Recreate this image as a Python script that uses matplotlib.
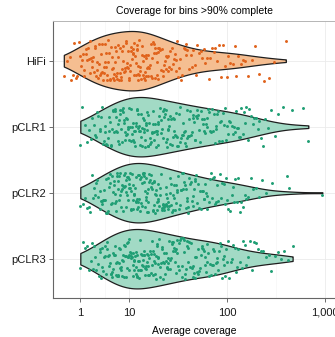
import numpy as np
import matplotlib
matplotlib.use("Agg")
import matplotlib.pyplot as plt
from matplotlib import cbook, mlab


groups = ["HiFi", "pCLR1", "pCLR2", "pCLR3"]

hifi = [
    0.46, 0.53, 0.61,
    0.66, 0.72, 0.76, 0.83, 0.87, 0.94, 0.98,
    1.02, 1.08, 1.11, 1.17, 1.2, 1.28, 1.31, 1.37, 1.45, 1.48, 1.56,
    1.6, 1.68, 1.71, 1.77, 1.85, 1.88, 1.96, 2.03, 2.07, 2.16, 2.2, 2.3, 2.36, 2.46,
    2.54, 2.62, 2.68, 2.75, 2.84, 2.9, 2.98, 3.04, 3.13, 3.2, 3.29, 3.34, 3.45, 3.51, 3.64, 3.73, 3.87,
    4.02, 4.12, 4.22, 4.36, 4.41, 4.57, 4.67, 4.8, 4.9, 5.04, 5.16, 5.3, 5.4, 5.56, 5.69, 5.87, 6.01, 6.2,
    6.37, 6.56, 6.7, 6.91, 7.03, 7.22, 7.42, 7.61, 7.81, 8.02, 8.18, 8.41, 8.62, 8.86, 9.03, 9.28, 9.49, 9.72, 9.92,
    10.1, 10.2, 10.4, 10.5, 10.6, 10.8, 10.9, 11.0, 11.2, 11.3, 11.5, 11.6, 11.7, 11.9, 12.0, 12.1, 12.2, 12.3, 12.4, 12.5,
    12.7, 12.9, 13.0, 13.2, 13.4, 13.5, 13.7, 13.9, 14.0, 14.2, 14.4, 14.5, 14.7, 14.9, 15.0, 15.2, 15.4, 15.6, 15.7,
    16.0, 16.2, 16.5, 16.7, 17.0, 17.2, 17.5, 17.7, 18.0, 18.2, 18.5, 18.7, 19.0, 19.2, 19.5, 19.7, 19.9,
    20.3, 20.7, 21.1, 21.5, 21.9, 22.3, 22.7, 23.1, 23.5, 23.9, 24.3, 24.6, 25.0,
    25.6, 26.2, 26.8, 27.4, 28.0, 28.6, 29.2, 29.8, 30.3, 30.9, 31.4,
    32.3, 33.2, 34.1, 35.0, 35.9, 36.8, 37.6, 38.4, 39.3,
    40.9, 42.4, 43.8, 45.3, 46.7, 48.1, 49.5,
    51.5, 53.6, 55.8, 57.9, 60.1, 62.2,
    64.8, 67.5, 70.3, 73.0, 75.8, 78.5,
    82.0, 86.1, 90.4, 94.7, 98.9,
    103, 108, 114, 119, 124,
    130, 138, 146, 154,
    165, 178, 192,
    212, 238,
    268, 301,
    398,
]

pclr1 = [
    1.0, 1.09, 1.22, 1.34, 1.5,
    1.63, 1.75, 1.86, 1.98, 2.07, 2.2, 2.33, 2.47,
    2.56, 2.68, 2.79, 2.93, 3.01, 3.14, 3.25, 3.37, 3.5, 3.62, 3.77, 3.91,
    4.05, 4.17, 4.3, 4.46, 4.58, 4.72, 4.87, 5.0, 5.13, 5.27, 5.45, 5.6, 5.76, 5.92, 6.08, 6.25,
    6.42, 6.6, 6.77, 6.95, 7.12, 7.33, 7.5, 7.71, 7.92, 8.1, 8.32, 8.55, 8.76, 8.98, 9.19, 9.4, 9.62, 9.86,
    10.0, 10.2, 10.3, 10.4, 10.6, 10.7, 10.8, 11.0, 11.1, 11.2, 11.4, 11.5, 11.6, 11.8, 11.9, 12.0, 12.1, 12.3, 12.4, 12.5,
    12.7, 12.8, 13.0, 13.1, 13.3, 13.5, 13.6, 13.8, 14.0, 14.1, 14.3, 14.4, 14.6, 14.8, 14.9, 15.1, 15.2, 15.4, 15.5, 15.7,
    15.9, 16.2, 16.4, 16.6, 16.9, 17.1, 17.4, 17.6, 17.9, 18.1, 18.3, 18.6, 18.8, 19.0, 19.3, 19.5, 19.7, 19.9,
    20.2, 20.5, 20.9, 21.2, 21.6, 21.9, 22.3, 22.6, 22.9, 23.2, 23.5, 23.8, 24.1, 24.4, 24.6, 24.8, 25.0,
    25.4, 25.9, 26.3, 26.8, 27.2, 27.7, 28.1, 28.6, 29.0, 29.4, 29.9, 30.3, 30.7, 31.1, 31.5,
    32.1, 32.7, 33.3, 33.9, 34.5, 35.1, 35.6, 36.2, 36.8, 37.3, 37.9, 38.5, 39.0, 39.6,
    40.4, 41.2, 42.0, 42.8, 43.5, 44.3, 45.1, 45.9, 46.7, 47.4, 48.2, 49.0, 49.8,
    51.0, 52.1, 53.2, 54.3, 55.3, 56.4, 57.5, 58.6, 59.7, 60.8, 61.9, 62.9,
    64.2, 65.8, 67.3, 68.8, 70.3, 71.8, 73.3, 74.8, 76.2, 77.6, 79.0,
    81.0, 83.1, 85.2, 87.3, 89.4, 91.5, 93.6, 95.7, 97.6, 99.5,
    102, 105, 108, 111, 114, 117, 119, 122, 125,
    128, 132, 136, 140, 144, 148, 152, 156,
    162, 168, 175, 182, 189, 196,
    205, 214, 224, 234, 246,
    262, 282, 305,
    335, 372,
    465,
    598, 676,
]

pclr2 = [
    1.0, 1.11, 1.23, 1.36, 1.52,
    1.6, 1.7, 1.8, 1.91, 2.0, 2.1, 2.22, 2.34, 2.48,
    2.53, 2.63, 2.72, 2.8, 2.9, 3.0, 3.09, 3.18, 3.28, 3.39, 3.5, 3.62, 3.74, 3.88,
    4.01, 4.13, 4.25, 4.37, 4.5, 4.63, 4.77, 4.9, 5.04, 5.18, 5.32, 5.46, 5.6, 5.74, 5.88, 6.0, 6.13, 6.27,
    6.35, 6.5, 6.66, 6.82, 6.98, 7.15, 7.31, 7.48, 7.66, 7.84, 8.02, 8.2, 8.39, 8.58, 8.77, 8.96, 9.15, 9.35, 9.55, 9.76, 9.96,
    10.0, 10.1, 10.2, 10.3, 10.4, 10.5, 10.7, 10.8, 10.9, 11.0, 11.1, 11.2, 11.3, 11.4, 11.6, 11.7, 11.8, 11.9, 12.0, 12.2, 12.3, 12.4, 12.5,
    12.6, 12.8, 12.9, 13.1, 13.2, 13.4, 13.5, 13.7, 13.8, 14.0, 14.1, 14.3, 14.4, 14.6, 14.7, 14.9, 15.0, 15.1, 15.3, 15.4, 15.6, 15.7,
    15.9, 16.1, 16.3, 16.5, 16.7, 16.9, 17.1, 17.3, 17.5, 17.7, 17.9, 18.1, 18.3, 18.5, 18.7, 18.9, 19.1, 19.3, 19.5, 19.7, 19.9,
    20.2, 20.5, 20.8, 21.1, 21.4, 21.7, 22.0, 22.3, 22.6, 22.9, 23.2, 23.5, 23.8, 24.0, 24.3, 24.5, 24.8, 25.0,
    25.4, 25.8, 26.2, 26.6, 27.0, 27.4, 27.8, 28.2, 28.6, 29.0, 29.5, 29.9, 30.3, 30.7, 31.1, 31.5,
    32.2, 32.8, 33.4, 34.0, 34.6, 35.2, 35.8, 36.4, 37.0, 37.6, 38.2, 38.7, 39.2, 39.7,
    40.3, 41.1, 41.9, 42.7, 43.5, 44.3, 45.1, 45.9, 46.7, 47.5, 48.3, 49.1, 49.9,
    51.2, 52.6, 54.0, 55.1, 56.3, 57.5, 58.6, 59.8, 60.9, 62.0, 63.0,
    64.8, 66.7, 68.5, 70.4, 72.2, 74.0, 75.8, 77.5, 79.2,
    81.3, 84.0, 86.8, 89.5, 92.2, 94.9, 97.3, 99.7,
    103, 107, 111, 114, 118, 121, 125,
    129, 134, 140, 145, 151, 157,
    164, 176, 186, 197,
    212, 228, 247,
    290,
    405, 430, 940,
]

pclr3 = [
    1.0, 1.12, 1.25, 1.38, 1.53,
    1.62, 1.72, 1.83, 1.93, 2.03, 2.14, 2.25, 2.36, 2.49,
    2.55, 2.65, 2.74, 2.84, 2.94, 3.04, 3.14, 3.24, 3.34, 3.44, 3.55, 3.67, 3.79, 3.92,
    4.03, 4.14, 4.26, 4.38, 4.5, 4.62, 4.75, 4.88, 5.0, 5.12, 5.25, 5.37, 5.5, 5.63, 5.76, 5.89, 6.02, 6.14, 6.26,
    6.4, 6.56, 6.72, 6.88, 7.05, 7.22, 7.39, 7.56, 7.74, 7.92, 8.1, 8.28, 8.47, 8.66, 8.85, 9.04, 9.23, 9.42, 9.61, 9.8, 9.97,
    10.0, 10.2, 10.3, 10.4, 10.5, 10.6, 10.8, 10.9, 11.0, 11.1, 11.2, 11.3, 11.5, 11.6, 11.7, 11.8, 11.9, 12.0, 12.1, 12.3, 12.4, 12.5,
    12.7, 12.8, 13.0, 13.1, 13.3, 13.4, 13.6, 13.7, 13.9, 14.0, 14.2, 14.3, 14.5, 14.6, 14.8, 14.9, 15.1, 15.2, 15.4, 15.5, 15.7,
    15.9, 16.1, 16.3, 16.6, 16.8, 17.0, 17.2, 17.4, 17.6, 17.8, 18.0, 18.2, 18.5, 18.7, 18.9, 19.1, 19.3, 19.5, 19.7, 19.9,
    20.2, 20.5, 20.8, 21.1, 21.4, 21.7, 22.0, 22.3, 22.6, 22.9, 23.2, 23.5, 23.8, 24.1, 24.3, 24.6, 24.8, 25.0,
    25.5, 25.9, 26.3, 26.7, 27.1, 27.5, 27.9, 28.3, 28.7, 29.1, 29.5, 29.9, 30.3, 30.7, 31.1, 31.5,
    32.0, 32.6, 33.1, 33.7, 34.2, 34.8, 35.3, 35.9, 36.4, 37.0, 37.5, 38.1, 38.6, 39.1, 39.6,
    40.3, 41.1, 41.9, 42.7, 43.5, 44.3, 45.1, 45.9, 46.7, 47.5, 48.3, 49.1, 49.9,
    50.8, 51.8, 52.8, 53.8, 54.8, 55.8, 56.8, 57.8, 58.8, 59.8, 60.8, 61.8, 62.8,
    64.0, 65.4, 66.8, 68.2, 69.6, 71.0, 72.4, 73.8, 75.2, 76.6, 78.0, 79.2,
    80.5, 82.4, 84.3, 86.2, 88.1, 90.0, 91.9, 93.8, 95.7, 97.6, 99.4,
    102, 105, 109, 112, 116, 119, 122, 125,
    130, 136, 141, 146, 151, 156,
    163, 171, 180, 188, 196,
    208, 222, 235, 248,
    265, 284, 305,
    330, 357, 385,
    420, 467,
]

fill_colors = ["#f5be91", "#a2dac5", "#a2dac5", "#a2dac5"]
point_colors = ["#e0631c", "#1f9e74", "#1f9e74", "#1f9e74"]

tick_values = [1, 10, 100, 1000]
tick_labels = ["1", "10", "100", "1,000"]
minor_values = [10 ** 0.5, 10 ** 1.5, 10 ** 2.5]

title_text = "Coverage for bins >90% complete"
x_label = "Average coverage"


def forward(x):
    # the decade below 10 is drawn at half width on this axis
    x = np.clip(np.asarray(x, dtype=float), 1e-9, None)
    lg = np.log10(x)
    return np.where(lg >= 1, lg, 0.5 + 0.5 * lg)


def inverse(u):
    u = np.asarray(u, dtype=float)
    return np.where(u >= 1, 10.0 ** u, 10.0 ** (2 * u - 1))


def nrd0_density(X, coords):
    X = np.asarray(X)
    sd = X.std(ddof=1)
    iqr = np.subtract(*np.percentile(X, [75, 25]))
    bw = 0.9 * min(sd, iqr / 1.34) * len(X) ** -0.2
    kde = mlab.GaussianKDE(X, bw / sd)
    return kde.evaluate(coords)


def main():
    plt.rcParams["font.family"] = ["Liberation Sans", "DejaVu Sans"]

    data = [hifi, pclr1, pclr2, pclr3]
    positions = [4, 3, 2, 1]

    fig = plt.figure(figsize=(3.35, 3.37), dpi=100)
    ax = fig.add_axes([0.158, 0.1148, 0.8448, 0.8226])
    ax.set_xscale("function", functions=(forward, inverse))

    # density is estimated on the transformed axis, then mapped back
    stats = cbook.violin_stats([forward(d) for d in data], nrd0_density, points=300)
    for s in stats:
        s["coords"] = inverse(s["coords"])
        for key in ("mean", "median", "min", "max"):
            s[key] = float(inverse(s[key]))

    parts = ax.violin(stats, positions=positions, orientation="horizontal",
                      widths=0.9, showmeans=False, showextrema=False,
                      showmedians=False)
    for body, fc in zip(parts["bodies"], fill_colors):
        body.set_facecolor(fc)
        body.set_edgecolor("#1e1e1e")
        body.set_linewidth(0.9)
        body.set_alpha(1)
        body.set_zorder(2)

    # vertical jitter like geom_jitter
    rng = np.random.default_rng(11)
    for vals, pos, pc in zip(data, positions, point_colors):
        yy = pos + rng.uniform(-0.31, 0.31, len(vals))
        ax.scatter(vals, yy, s=4.5, color=pc, linewidths=0, zorder=3)

    ax.set_xlim(inverse(0.2202), inverse(3.112))
    ax.set_ylim(0.4, 4.6)
    ax.set_xticks(tick_values)
    ax.set_xticklabels(tick_labels)
    ax.set_xticks(minor_values, minor=True)
    ax.set_yticks(positions)
    ax.set_yticklabels(groups)

    ax.set_axisbelow(True)
    ax.grid(which="major", color="#ebebeb", linewidth=0.6)
    ax.grid(which="minor", axis="x", color="#f3f3f3", linewidth=0.4)

    ax.tick_params(axis="both", which="major", length=3.2, width=0.6,
                   color="#555555", labelsize=8, pad=2, labelcolor="#1a1a1a")
    ax.tick_params(axis="x", which="major", pad=3.5)
    ax.tick_params(axis="x", which="minor", length=0)

    for side in ("left", "bottom"):
        ax.spines[side].set_color("#666666")
        ax.spines[side].set_linewidth(0.8)
    ax.spines["top"].set_color("#b5b5b5")
    ax.spines["top"].set_linewidth(0.7)
    ax.spines["right"].set_visible(False)

    ax.set_title(title_text, fontsize=7.5, pad=5)
    ax.set_xlabel(x_label, fontsize=7.5, labelpad=6)

    fig.savefig("out.png", dpi=100)
    plt.close(fig)


if __name__ == "__main__":
    main()
